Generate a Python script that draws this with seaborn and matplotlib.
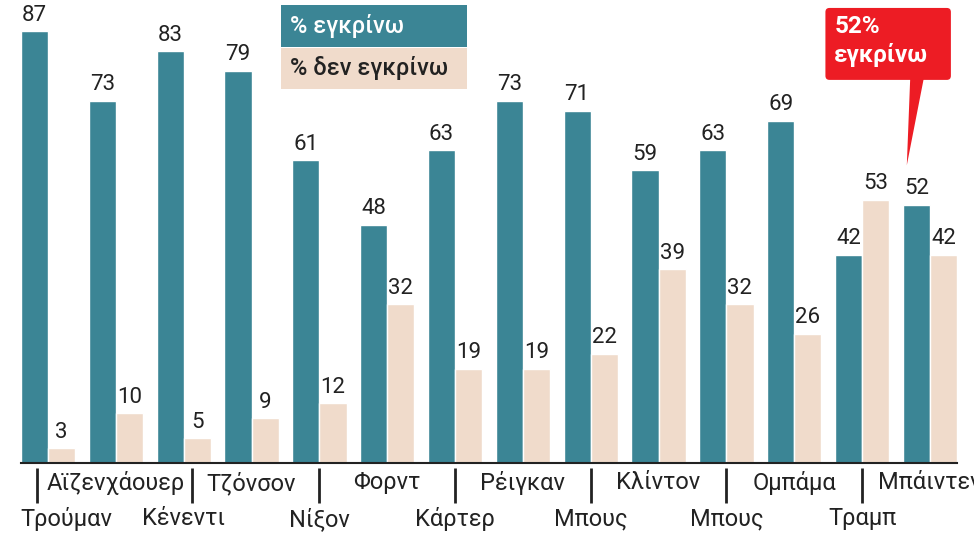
import numpy as np
import pandas as pd
import seaborn as sns
import matplotlib.pyplot as plt
import matplotlib.transforms as mtrans
from matplotlib.patches import FancyBboxPatch, Polygon, Rectangle

# data
presidents = ["Τρούμαν", "Αϊζενχάουερ", "Κένεντι", "Τζόνσον", "Νίξον", "Φορντ", "Κάρτερ",
              "Ρέιγκαν", "Μπους", "Κλίντον", "Μπους", "Ομπάμα", "Τραμπ", "Μπάιντεν"]
approve = [87, 73, 83, 79, 61, 48, 63, 73, 71, 59, 63, 69, 42, 52]
disapprove = [3, 10, 5, 9, 12, 32, 19, 19, 22, 39, 32, 26, 53, 42]
series = ["% εγκρίνω", "% δεν εγκρίνω"]

teal = "#3B8595"
beige = "#F0DBCB"
red = "#ED1C24"
dark = "#222222"

sns.set_style("white")
plt.rcParams["font.family"] = ["Roboto", "DejaVu Sans"]

n = len(presidents)
df = pd.DataFrame({
    "idx": list(range(n)) * 2,
    "value": approve + disapprove,
    "kind": [series[0]] * n + [series[1]] * n,
})

W, H = 974, 534
fig = plt.figure(figsize=(W / 100, H / 100), dpi=100)
ax = fig.add_axes([21 / W, 1 - 463 / H, 936 / W, 463 / H])

sns.barplot(data=df, x="idx", y="value", hue="kind", hue_order=series,
            palette=[teal, beige], saturation=1, width=0.8, gap=0,
            legend=False, ax=ax)

for c in ax.containers:
    ax.bar_label(c, padding=4, fontsize=16, color=dark)

ax.set_xlim(-0.4, n - 0.6)
ax.set_ylim(0, 93.3)
ax.set_xlabel("")
ax.set_ylabel("")
ax.set_yticks([])
for s in ["top", "left", "right"]:
    ax.spines[s].set_visible(False)
ax.spines["bottom"].set_color(dark)
ax.spines["bottom"].set_linewidth(1.5)

# two rows of labels: odd names on top, even names below
ax.set_xticks(range(0, n, 2), labels=presidents[0::2])
ax.set_xticks(range(1, n, 2), labels=presidents[1::2], minor=True)
ax.tick_params(axis="x", which="both", length=0, labelsize=17, labelcolor=dark)
ax.tick_params(axis="x", which="major", pad=32)
ax.tick_params(axis="x", which="minor", pad=6)

# first label sits a little to the right so it does not touch the edge
first = ax.xaxis.get_majorticklabels()[0]
first.set_transform(first.get_transform() + mtrans.ScaledTranslation(0.18, 0, fig.dpi_scale_trans))

# separators above the lower-row labels
sep_x = [-0.16, 2.12, 4, 6, 8, 10, 12]
ax.vlines(sep_x, -0.011, -0.086, transform=ax.get_xaxis_transform(),
          clip_on=False, color=dark, lw=2)

# legend boxes
fig.add_artist(Rectangle((281 / W, 1 - 47 / H), 186 / W, 42 / H,
                         transform=fig.transFigure, color=teal, lw=0))
fig.add_artist(Rectangle((281 / W, 1 - 89 / H), 186 / W, 41 / H,
                         transform=fig.transFigure, color=beige, lw=0))
fig.text(290 / W, 1 - 26 / H, series[0], color="white", fontsize=17,
         fontweight="medium", va="center", ha="left")
fig.text(290 / W, 1 - 68 / H, series[1], color=dark, fontsize=17,
         fontweight="medium", va="center", ha="left")

# callout for the last president
last = n - 1
xpx = 936 / (n - 0.2)
ypx = 463 / 93.3
box = FancyBboxPatch((last - 1.54, 77.2), 1.85, 14.5,
                     boxstyle="round,pad=0,rounding_size=0.06",
                     mutation_aspect=xpx / ypx, color=red, lw=0)
ax.add_patch(box)
ax.add_patch(Polygon([(last - 0.29, 77.5), (last - 0.09, 77.5), (last - 0.34, approve[last] + 8)],
                     closed=True, color=red, lw=0))
ax.text(last - 1.41, 90.2, "52%\nεγκρίνω", color="white", fontsize=17.5,
        fontweight="bold", va="top", ha="left", linespacing=1.25)

fig.savefig("out.png", dpi=100)
